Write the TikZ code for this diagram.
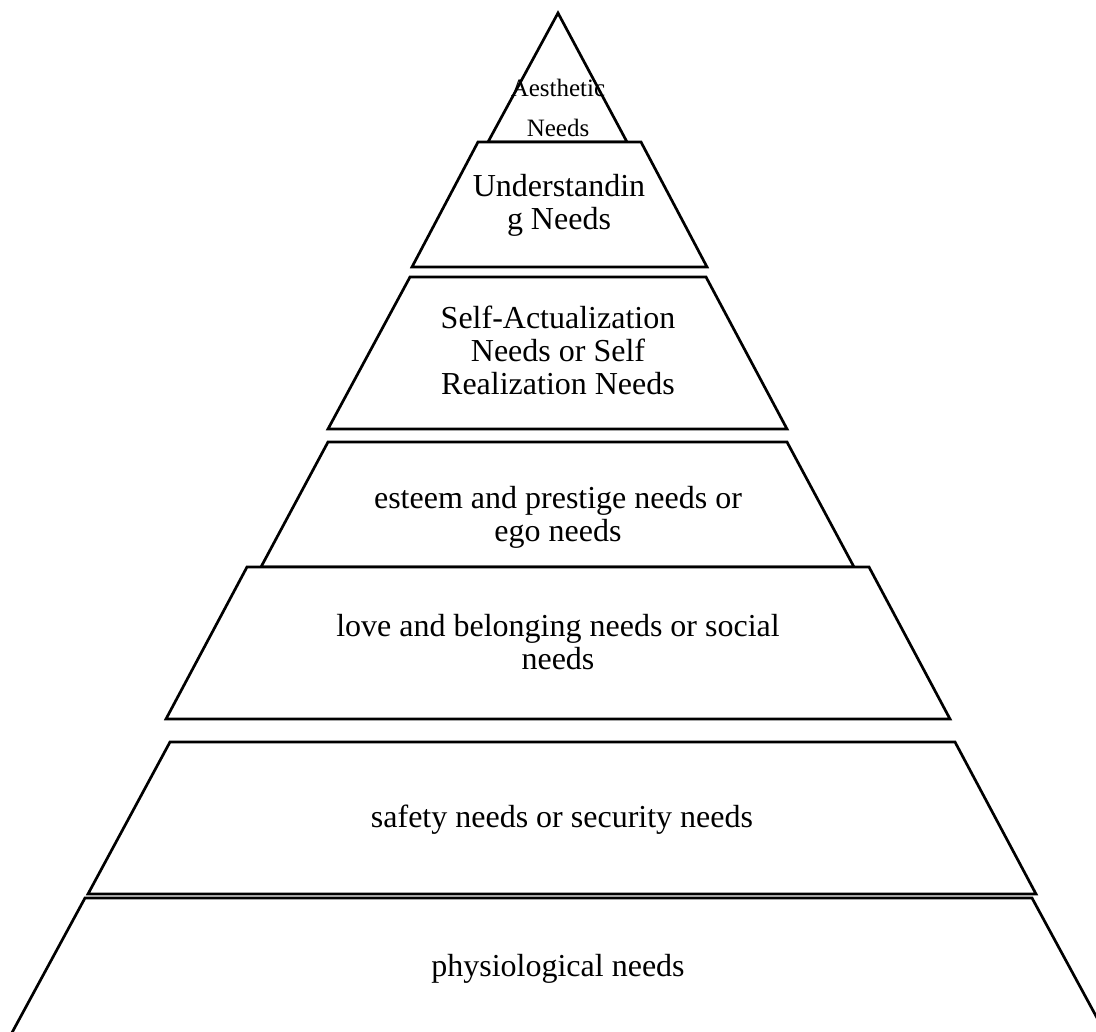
\documentclass[tikz,border=0pt]{standalone}
\usepackage{fontspec}
\setmainfont{Liberation Serif}
\usetikzlibrary{positioning}

\tikzset{
    level/.style={draw=black, line width=2.7pt, line join=miter, fill=white},
    label/.style={align=center, inner sep=0pt, anchor=base, font=\fontsize{32}{33}\selectfont}
}

\begin{document}
\begin{tikzpicture}[x=1pt, y=-1pt]
    \useasboundingbox (0,0) rectangle (1096,1032);
    \clip (0,0) rectangle (1096,1032);
    % levels from the top down
    \draw[level] (558,13) -- (627,142) -- (488,142) -- cycle;
    \draw[level] (478,142) -- (641,142) -- (707,267) -- (412,267) -- cycle;
    \draw[level] (410,277) -- (706,277) -- (787,429) -- (328,429) -- cycle;
    \draw[level] (328,442) -- (787,442) -- (854,567) -- (261,567) -- cycle;
    \draw[level] (247,567) -- (869,567) -- (950,719) -- (166,719) -- cycle;
    \draw[level] (170,742) -- (955,742) -- (1036,894) -- (88,894) -- cycle;
    \draw[level] (85,898) -- (1032,898) -- (1109,1040) -- (8,1040) -- cycle;
    % texts (base = last line)
    \node[label, font=\fontsize{25}{40}\selectfont] (aesthetic) at (558,137) {Aesthetic\\Needs};
    \node[label] (understanding) at (559,230) {Understandin\\g Needs};
    \node[label] (selfact) at (558,395) {Self-Actualization\\Needs or Self\\Realization Needs};
    \node[label] (esteem) at (558,541) {esteem and prestige needs or\\ego needs};
    \node[label] (love) at (558,669) {love and belonging needs or social\\needs};
    \node[label] (safety) at (562,827) {safety needs or security needs};
    \node[label] (physio) at (558,976) {physiological needs};
\end{tikzpicture}
\end{document}
